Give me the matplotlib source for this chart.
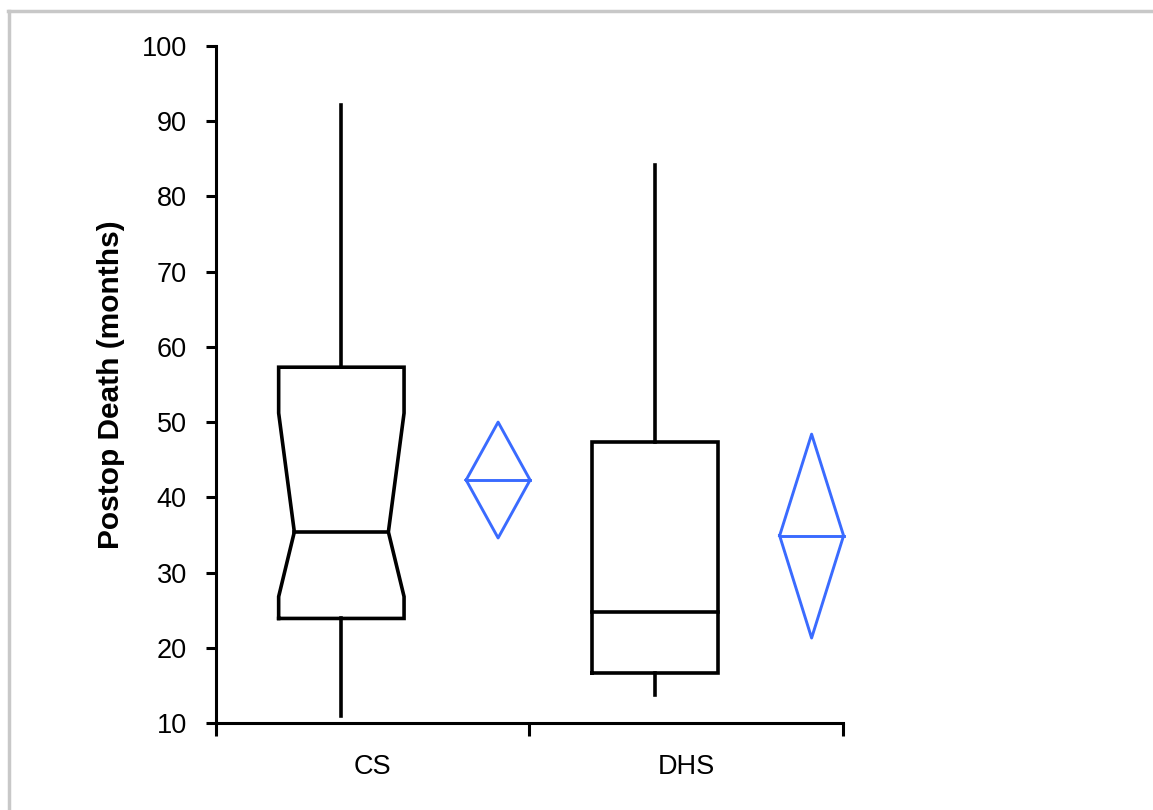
import matplotlib.pyplot as plt
from matplotlib.lines import Line2D

# ── Дані ───────────────────────────────────────────────────────────────────
groups = ["CS", "DHS"]
whisker_lo = [10.9, 13.7]
q1 = [23.9, 16.6]
median = [35.4, 24.8]
q3 = [57.3, 47.4]
whisker_hi = [92.2, 84.2]
notch_lo = [26.8, None]
notch_hi = [51.2, None]

means = [42.3, 34.9]
ci_lo = [34.6, 21.3]
ci_hi = [50.0, 48.4]

# ── Стиль ──────────────────────────────────────────────────────────────────
BOX_OFFSET = 0.40
BOX_HALF = 0.20
NOTCH_INSET = 0.05
DIAMOND_OFFSET = 0.90
DIAMOND_HALF = 0.102
BLUE = "#3a6bff"
LW = 2.6

plt.rcParams["font.family"] = ["Liberation Sans", "DejaVu Sans"]

fig = plt.figure(figsize=(11.53, 8.10), dpi=100)
ax = fig.add_axes([0.1873, 0.1074, 0.7311 - 0.1873, 0.9432 - 0.1074])

for i, name in enumerate(groups):
    cx = i + BOX_OFFSET
    l, r = cx - BOX_HALF, cx + BOX_HALF
    if notch_lo[i] is not None:
        xs = [l, l, l + NOTCH_INSET, l, l, r, r, r - NOTCH_INSET, r, r, l]
        ys = [q1[i], notch_lo[i], median[i], notch_hi[i], q3[i],
              q3[i], notch_hi[i], median[i], notch_lo[i], q1[i], q1[i]]
        ml, mr = l + NOTCH_INSET, r - NOTCH_INSET
    else:
        xs = [l, l, r, r, l]
        ys = [q1[i], q3[i], q3[i], q1[i], q1[i]]
        ml, mr = l, r
    ax.plot(xs, ys, color="black", lw=LW, solid_joinstyle="miter", clip_on=False)
    ax.plot([ml, mr], [median[i], median[i]], color="black", lw=LW)
    ax.plot([cx, cx], [q3[i], whisker_hi[i]], color="black", lw=LW)
    ax.plot([cx, cx], [q1[i], whisker_lo[i]], color="black", lw=LW, clip_on=False)

    dx = i + DIAMOND_OFFSET
    ax.plot([dx - DIAMOND_HALF, dx, dx + DIAMOND_HALF, dx, dx - DIAMOND_HALF],
            [means[i], ci_hi[i], means[i], ci_lo[i], means[i]],
            color=BLUE, lw=2.1, clip_on=False)
    ax.plot([dx - DIAMOND_HALF, dx + DIAMOND_HALF], [means[i], means[i]],
            color=BLUE, lw=2.1, clip_on=False)

ax.set_xlim(0, len(groups))
ax.set_ylim(10, 100)
ax.set_yticks(range(10, 101, 10))
ax.set_xticks(range(len(groups) + 1))
ax.set_xticklabels([])
ax.set_xticks([i + 0.5 for i in range(len(groups))], minor=True)
ax.set_xticklabels(groups, minor=True)

for side in ("top", "right"):
    ax.spines[side].set_visible(False)
for side in ("left", "bottom"):
    ax.spines[side].set_linewidth(2.2)

ax.tick_params(axis="y", direction="out", length=7, width=2.2, pad=14, labelsize=19.5)
ax.tick_params(axis="x", which="major", direction="out", length=9, width=2.2)
ax.tick_params(axis="x", which="minor", length=0, pad=22, labelsize=19.5)

ax.set_ylabel("Postop Death (months)", fontsize=21.5, fontweight="bold", labelpad=12)

# сіра рамка зверху та зліва
fig.add_artist(Line2D([0.0072, 1.0], [1 - 11 / 810, 1 - 11 / 810],
                      color="#c8c8c8", lw=2.5, transform=fig.transFigure))
fig.add_artist(Line2D([9 / 1153, 9 / 1153], [0.0, 1 - 11 / 810],
                      color="#c8c8c8", lw=2.5, transform=fig.transFigure))

fig.savefig("out.png", dpi=100)
